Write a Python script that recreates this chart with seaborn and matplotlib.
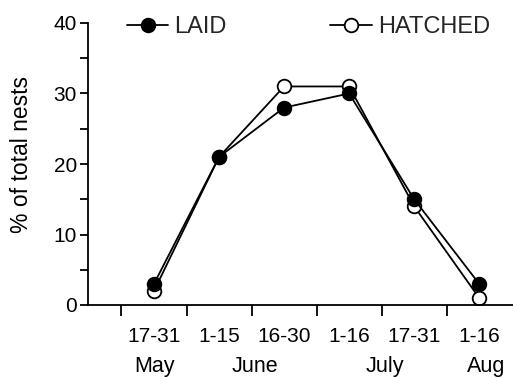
import numpy as np
import pandas as pd
import matplotlib
matplotlib.use('Agg')
import matplotlib.pyplot as plt
import seaborn as sns
from matplotlib.lines import Line2D
from matplotlib.ticker import MultipleLocator, FixedLocator

# half-month periods and the month names under them
periods = ['17-31', '1-15', '16-30', '1-16', '17-31', '1-16']
months = ['May', 'June', 'July', 'Aug']
month_pos = [0, 1.55, 3.55, 5.1]

# % of total nests
laid = [3, 21, 28, 30, 15, 3]
hatched = [2, 21, 31, 31, 14, 1]

sns.set_theme(style='ticks')
plt.rcParams['font.family'] = ['Liberation Sans', 'DejaVu Sans']

df = pd.DataFrame({'pos': np.arange(len(periods)), 'LAID': laid, 'HATCHED': hatched})

fig = plt.figure(figsize=(5.13, 3.78), dpi=100)
ax = fig.add_axes([88 / 513, 73 / 378, 425 / 513, 282 / 378])

lw = 1.3
# hatched first so the filled markers sit on top
sns.lineplot(data=df, x='pos', y='HATCHED', ax=ax, color='black', linewidth=lw,
             marker='o', markersize=9.8, markerfacecolor='white',
             markeredgecolor='black', markeredgewidth=lw)
sns.lineplot(data=df, x='pos', y='LAID', ax=ax, color='black', linewidth=lw,
             marker='o', markersize=9.8, markerfacecolor='black',
             markeredgecolor='black', markeredgewidth=lw)

ax.set_xlim(-1.015, 5.52)
ax.set_ylim(0, 40)
sns.despine(ax=ax)
for s in ['left', 'bottom']:
    ax.spines[s].set_linewidth(lw)
    ax.spines[s].set_color('black')

# x axis: ticks between periods, labels at the periods
ax.xaxis.set_major_locator(FixedLocator(np.arange(len(periods)) - 0.5))
ax.xaxis.set_minor_locator(FixedLocator(np.arange(len(periods))))
ax.set_xticklabels([], minor=False)
ax.set_xticklabels(periods, minor=True)
ax.tick_params(axis='x', which='major', direction='out', length=8, width=lw, color='black')
ax.tick_params(axis='x', which='minor', length=0, pad=15.5, labelsize=15, labelcolor='black')
for p, m in zip(month_pos, months):
    ax.text(p, -0.182, m, transform=ax.get_xaxis_transform(), ha='center', va='top',
            fontsize=15.5, color='black')

# y axis
ax.yaxis.set_major_locator(MultipleLocator(10))
ax.yaxis.set_minor_locator(MultipleLocator(5))
ax.tick_params(axis='y', which='both', direction='out', length=6, width=lw, color='black',
               pad=2, labelsize=15, labelcolor='black')
ax.set_ylabel('% of total nests', fontsize=16.5, color='black')
ax.set_xlabel('')
ax.yaxis.set_label_coords(-0.13, 0.535)

handles = [
    Line2D([], [], color='black', lw=lw, marker='o', ms=9.8, mfc='black', mec='black', mew=lw),
    Line2D([], [], color='black', lw=lw, marker='o', ms=9.8, mfc='white', mec='black', mew=lw),
]
fig.legend(handles, ['LAID', 'HATCHED'], ncol=2, loc='center left',
           bbox_to_anchor=(127 / 513, 1 - 27 / 378), frameon=False, borderpad=0,
           borderaxespad=0, handlelength=1.75, handletextpad=0.25, columnspacing=4.4,
           fontsize=17)

fig.savefig('out.png', dpi=100)
